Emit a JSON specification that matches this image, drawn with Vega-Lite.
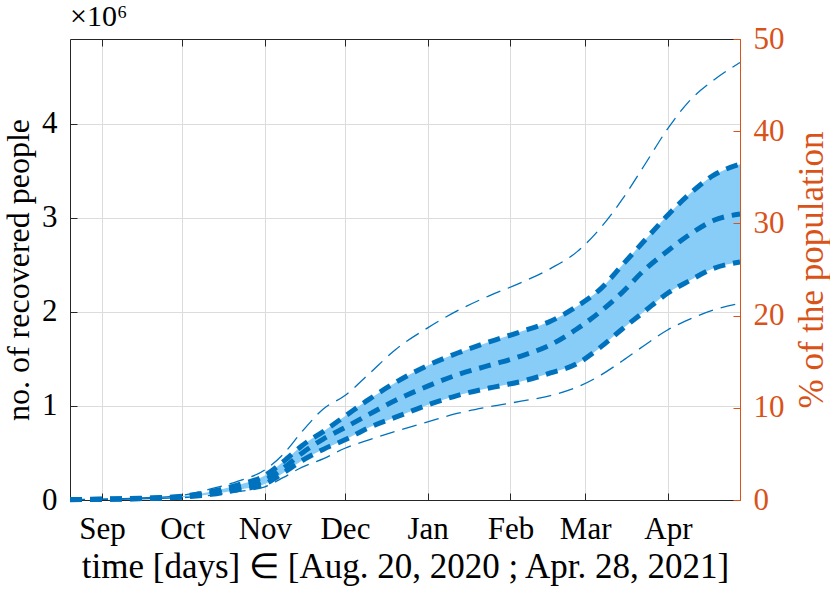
{
  "$schema": "https://vega.github.io/schema/vega-lite/v6.json",
  "width": 670,
  "height": 461,
  "autosize": {"type": "none"},
  "padding": {"left": 70, "top": 39, "right": 90, "bottom": 89},
  "background": "white",
  "config": {
    "font": "Liberation Serif",
    "view": {"stroke": null},
    "axis": {
      "labelFont": "Liberation Serif",
      "titleFont": "Liberation Serif",
      "labelFontSize": 31,
      "titleFontSize": 35,
      "titleFontWeight": "normal",
      "labelColor": "#000000",
      "titleColor": "#000000",
      "domainColor": "#262626",
      "domainWidth": 1,
      "tickColor": "#262626",
      "tickWidth": 1,
      "tickSize": -7,
      "gridColor": "#dcdcdc",
      "gridWidth": 1
    }
  },
  "title": {
    "text": "×10⁶",
    "anchor": "start",
    "frame": "group",
    "font": "Liberation Serif",
    "fontSize": 30,
    "fontWeight": "normal",
    "color": "#000000",
    "offset": -9
  },
  "data": {"name": "recovered"},
  "datasets": {
    "recovered": [
      {"date": "2020/08/20", "lo2": 0.002, "lo1": 0.003, "med": 0.004, "hi1": 0.005, "hi2": 0.006},
      {"date": "2020/09/01", "lo2": 0.006, "lo1": 0.007, "med": 0.008, "hi1": 0.009, "hi2": 0.010},
      {"date": "2020/09/15", "lo2": 0.012, "lo1": 0.014, "med": 0.016, "hi1": 0.018, "hi2": 0.021},
      {"date": "2020/10/01", "lo2": 0.025, "lo1": 0.030, "med": 0.035, "hi1": 0.040, "hi2": 0.050},
      {"date": "2020/10/12", "lo2": 0.050, "lo1": 0.060, "med": 0.075, "hi1": 0.090, "hi2": 0.120},
      {"date": "2020/10/22", "lo2": 0.090, "lo1": 0.110, "med": 0.130, "hi1": 0.160, "hi2": 0.200},
      {"date": "2020/11/01", "lo2": 0.140, "lo1": 0.170, "med": 0.210, "hi1": 0.260, "hi2": 0.320},
      {"date": "2020/11/08", "lo2": 0.240, "lo1": 0.290, "med": 0.340, "hi1": 0.410, "hi2": 0.490},
      {"date": "2020/11/15", "lo2": 0.350, "lo1": 0.420, "med": 0.500, "hi1": 0.580, "hi2": 0.730},
      {"date": "2020/11/23", "lo2": 0.440, "lo1": 0.540, "med": 0.650, "hi1": 0.730, "hi2": 0.970},
      {"date": "2020/12/01", "lo2": 0.550, "lo1": 0.640, "med": 0.770, "hi1": 0.890, "hi2": 1.110},
      {"date": "2020/12/10", "lo2": 0.640, "lo1": 0.770, "med": 0.910, "hi1": 1.070, "hi2": 1.340},
      {"date": "2020/12/20", "lo2": 0.730, "lo1": 0.880, "med": 1.060, "hi1": 1.250, "hi2": 1.600},
      {"date": "2021/01/01", "lo2": 0.830, "lo1": 1.010, "med": 1.210, "hi1": 1.430, "hi2": 1.830},
      {"date": "2021/01/12", "lo2": 0.920, "lo1": 1.110, "med": 1.330, "hi1": 1.560, "hi2": 2.010},
      {"date": "2021/01/24", "lo2": 0.990, "lo1": 1.190, "med": 1.430, "hi1": 1.680, "hi2": 2.170},
      {"date": "2021/02/05", "lo2": 1.050, "lo1": 1.260, "med": 1.530, "hi1": 1.790, "hi2": 2.310},
      {"date": "2021/02/16", "lo2": 1.110, "lo1": 1.350, "med": 1.650, "hi1": 1.900, "hi2": 2.460},
      {"date": "2021/02/26", "lo2": 1.200, "lo1": 1.450, "med": 1.820, "hi1": 2.060, "hi2": 2.640},
      {"date": "2021/03/07", "lo2": 1.330, "lo1": 1.630, "med": 2.010, "hi1": 2.250, "hi2": 2.900},
      {"date": "2021/03/15", "lo2": 1.480, "lo1": 1.820, "med": 2.210, "hi1": 2.500, "hi2": 3.200},
      {"date": "2021/03/23", "lo2": 1.640, "lo1": 2.000, "med": 2.440, "hi1": 2.750, "hi2": 3.550},
      {"date": "2021/04/01", "lo2": 1.810, "lo1": 2.200, "med": 2.650, "hi1": 3.030, "hi2": 3.950},
      {"date": "2021/04/09", "lo2": 1.920, "lo1": 2.330, "med": 2.820, "hi1": 3.250, "hi2": 4.240},
      {"date": "2021/04/18", "lo2": 2.020, "lo1": 2.460, "med": 2.970, "hi1": 3.450, "hi2": 4.460},
      {"date": "2021/04/28", "lo2": 2.090, "lo1": 2.530, "med": 3.040, "hi1": 3.570, "hi2": 4.650}
    ],
    "percent": [{"pct": 0}, {"pct": 50}]
  },
  "layer": [
    {
      "mark": {"type": "area", "color": "#88cdf8", "interpolate": "monotone", "opacity": 1},
      "encoding": {
        "x": {
          "field": "date", "type": "temporal",
          "scale": {"domain": [{"year": 2020, "month": 8, "date": 20}, {"year": 2021, "month": 4, "date": 28}], "nice": false},
          "axis": {
            "orient": "bottom", "format": "%b", "tickCount": {"interval": "month", "step": 1},
            "grid": true, "labelPadding": 21, "labelFlush": false, "labelOverlap": false,
            "title": "time [days] ∈ [Aug. 20, 2020 ; Apr. 28, 2021]", "titlePadding": 5
          }
        },
        "y": {
          "field": "lo1", "type": "quantitative",
          "scale": {"domain": [0, 4.9], "nice": false},
          "axis": {
            "orient": "left", "values": [0, 1, 2, 3, 4], "grid": true, "labelPadding": 20,
            "title": "no. of recovered people", "titleFontSize": 32, "titlePadding": 6
          }
        },
        "y2": {"field": "hi1"}
      }
    },
    {
      "mark": {"type": "line", "color": "#0072bd", "strokeWidth": 1.3, "strokeDash": [15, 8], "interpolate": "monotone"},
      "encoding": {
        "x": {"field": "date", "type": "temporal", "axis": null},
        "y": {"field": "hi2", "type": "quantitative", "scale": {"domain": [0, 4.9], "nice": false}, "axis": null}
      }
    },
    {
      "mark": {"type": "line", "color": "#0072bd", "strokeWidth": 1.3, "strokeDash": [15, 8], "interpolate": "monotone"},
      "encoding": {
        "x": {"field": "date", "type": "temporal", "axis": null},
        "y": {"field": "lo2", "type": "quantitative", "scale": {"domain": [0, 4.9], "nice": false}, "axis": null}
      }
    },
    {
      "mark": {"type": "line", "color": "#0072bd", "strokeWidth": 5, "strokeDash": [12, 8], "interpolate": "monotone"},
      "encoding": {
        "x": {"field": "date", "type": "temporal", "axis": null},
        "y": {"field": "hi1", "type": "quantitative", "scale": {"domain": [0, 4.9], "nice": false}, "axis": null}
      }
    },
    {
      "mark": {"type": "line", "color": "#0072bd", "strokeWidth": 5, "strokeDash": [12, 8], "interpolate": "monotone"},
      "encoding": {
        "x": {"field": "date", "type": "temporal", "axis": null},
        "y": {"field": "lo1", "type": "quantitative", "scale": {"domain": [0, 4.9], "nice": false}, "axis": null}
      }
    },
    {
      "mark": {"type": "line", "color": "#0072bd", "strokeWidth": 5, "strokeDash": [12, 8], "interpolate": "monotone"},
      "encoding": {
        "x": {
          "field": "date", "type": "temporal",
          "axis": {
            "orient": "top", "labels": false, "grid": false, "title": null,
            "tickCount": {"interval": "month", "step": 1}
          }
        },
        "y": {"field": "med", "type": "quantitative", "scale": {"domain": [0, 4.9], "nice": false}, "axis": null}
      }
    },
    {
      "data": {"name": "percent"},
      "mark": {"type": "point", "opacity": 0},
      "encoding": {
        "y": {
          "field": "pct", "type": "quantitative",
          "scale": {"domain": [0, 50], "nice": false},
          "axis": {
            "orient": "right", "values": [0, 10, 20, 30, 40, 50], "grid": false, "zindex": 1,
            "domainColor": "#d95319", "tickColor": "#d95319", "labelColor": "#d95319", "titleColor": "#d95319",
            "labelPadding": 20, "title": "% of the population", "titleFontSize": 35,
            "titleAngle": -90, "titleBaseline": "top", "titlePadding": 10
          }
        }
      }
    }
  ],
  "resolve": {"scale": {"y": "independent"}, "axis": {"x": "independent"}}
}
